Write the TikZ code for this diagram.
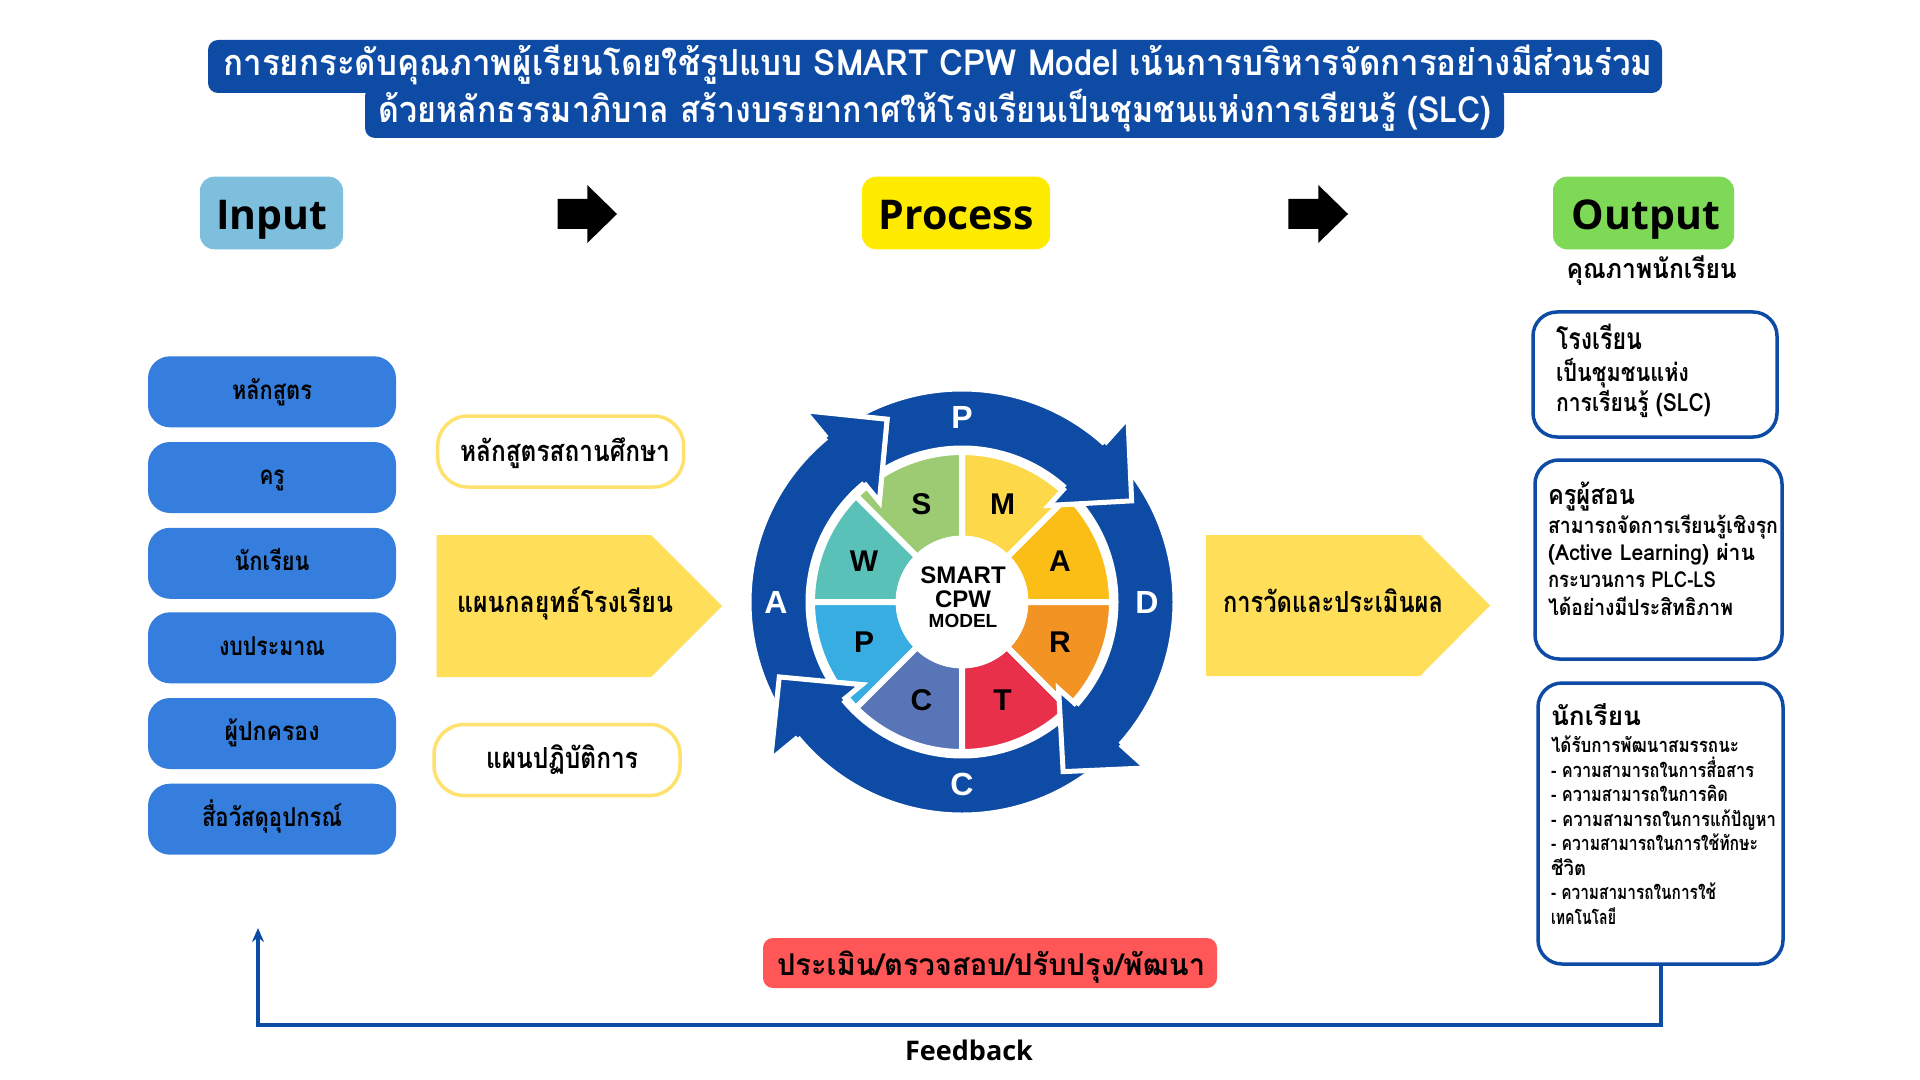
\documentclass[tikz,border=0pt]{standalone}
\usepackage{fontspec}
\usepackage{graphicx}
\setmainfont{Open Sans}
\newfontfamily\thaifont[Script=Thai]{Loma}
\newfontfamily\libsans{Liberation Sans}
\usetikzlibrary{arrows.meta}
\newdimen\pxu \pxu=0.5pt
% text at a given size, squeezed or stretched to a given width (in px)
\newcommand\fw[3]{{\fontsize{#2}{#2}\selectfont\resizebox{#1\pxu}{\height}{#3}}}
\definecolor{navy}{HTML}{0E4BA5}
\definecolor{cin}{HTML}{7EBFDE}
\definecolor{cproc}{HTML}{FFEB00}
\definecolor{cout}{HTML}{7ED957}
\definecolor{cblue}{HTML}{357EDD}
\definecolor{cyb}{HTML}{FFE16E}
\definecolor{cyf}{HTML}{FFDE59}
\definecolor{cred}{HTML}{FF5757}
\definecolor{sA}{HTML}{FBBE17}
\definecolor{sM}{HTML}{FDD849}
\definecolor{sS}{HTML}{9CCB74}
\definecolor{sW}{HTML}{5AC1B9}
\definecolor{sP}{HTML}{38ADE2}
\definecolor{sC}{HTML}{5875B8}
\definecolor{sT}{HTML}{E8304B}
\definecolor{sR}{HTML}{F29324}
\tikzset{
  bluebox/.style={fill=cblue, rounded corners=11pt, minimum width=124pt, minimum height=35.5pt},
  ybox/.style={fill=white, draw=cyb, line width=1.75pt, rounded corners=15pt, minimum width=123pt, minimum height=35.5pt},
  obox/.style={fill=white, draw=navy, line width=1.75pt, rounded corners=12pt},
  hdr/.style={rounded corners=7pt, minimum height=36.3pt},
  hdrtext/.style={font=\bfseries\fontsize{20.5pt}{20.5pt}\selectfont, anchor=base},
  th/.style={font=\thaifont\bfseries, anchor=base},
  thl/.style={font=\thaifont\bfseries, anchor=base west},
  wlet/.style={font=\libsans\bfseries\fontsize{15pt}{15pt}\selectfont},
  rlet/.style={font=\libsans\bfseries\fontsize{16pt}{16pt}\selectfont, text=white},
  penta/.style={fill=cyf},
  blkarrow/.style={fill=black},
  fbline/.style={draw=navy, line width=2pt, -{Stealth[length=7pt,width=6pt]}}
}
\begin{document}
\begin{tikzpicture}[x=0.5pt,y=-0.5pt,every node/.style={inner sep=0pt,outer sep=0pt}]
\fill[white] (0,0) rectangle (1920,1080);
\useasboundingbox (0,0) rectangle (1920,1080);

% ---------- title ----------
\node[fill=navy, rounded corners=5pt, minimum width=727pt, minimum height=26.5pt] (tb1) at (935,66.5) {};
\node[fill=navy, rounded corners=5pt, minimum width=569.5pt, minimum height=26pt] (tb2) at (934.5,112) {};
\node[th, text=white] (tt1) at (938,76) {\fw{1429}{18pt}{การยกระดับคุณภาพผู้เรียนโดยใช้รูปแบบ SMART CPW Model เน้นการบริหารจัดการอย่างมีส่วนร่วม}};
\node[th, text=white] (tt2) at (935,123) {\fw{1113}{18pt}{ด้วยหลักธรรมาภิบาล สร้างบรรยากาศให้โรงเรียนเป็นชุมชนแห่งการเรียนรู้ (SLC)}};

% ---------- headers ----------
\node[hdr, fill=cin, minimum width=71.5pt] (hin) at (271.5,213) {};
\node[hdrtext] (tin) at (272,230) {Input};
\node[hdr, fill=cproc, minimum width=94pt] (hproc) at (956,213) {};
\node[hdrtext] (tproc) at (956,230) {Process};
\node[hdr, fill=cout, minimum width=90.5pt] (hout) at (1643.5,213) {};
\node[hdrtext] (tout) at (1646,230) {Output};
\node[th] (qual) at (1651.7,279) {\fw{170}{13.5pt}{คุณภาพนักเรียน}};

\fill[blkarrow] (557.7,199) -- (587.3,199) -- (587.3,185) -- (617,214) -- (587.3,243) -- (587.3,229) -- (557.7,229) -- cycle;
\fill[blkarrow] (1288.3,199) -- (1318.3,199) -- (1318.3,185) -- (1348,214) -- (1318.3,243) -- (1318.3,229) -- (1288.3,229) -- cycle;

% ---------- input boxes ----------
\node[bluebox] (i1) at (272,391.8) {};
\node[bluebox] (i2) at (272,477.5) {};
\node[bluebox] (i3) at (272,563.3) {};
\node[bluebox] (i4) at (272,647.8) {};
\node[bluebox] (i5) at (272,733.5) {};
\node[bluebox] (i6) at (272,819.2) {};
\node[th] (ti1) at (272,399) {\fw{80}{13pt}{หลักสูตร}};
\node[th] (ti2) at (272,484.7) {\fw{25}{13pt}{ครู}};
\node[th] (ti3) at (272,570.5) {\fw{75}{13pt}{นักเรียน}};
\node[th] (ti4) at (272,655) {\fw{106}{13pt}{งบประมาณ}};
\node[th] (ti5) at (272,740.7) {\fw{95}{13pt}{ผู้ปกครอง}};
\node[th] (ti6) at (272,826.4) {\fw{140}{13pt}{สื่อวัสดุอุปกรณ์}};

% ---------- plans ----------
\node[ybox] (p1) at (560.7,451.5) {};
\node[th] (tp1) at (565,461) {\fw{210}{14.5pt}{หลักสูตรสถานศึกษา}};
\fill[penta] (436.5,535) -- (651,535) -- (722,606) -- (651,677) -- (436.5,677) -- cycle;
\node[th] (tp2) at (565,612) {\fw{216}{14.5pt}{แผนกลยุทธ์โรงเรียน}};
\node[ybox] (p3) at (557,760) {};
\node[th] (tp3) at (562,768) {\fw{152}{14.5pt}{แผนปฏิบัติการ}};

% ---------- wheel ----------
\begin{scope}[shift={(962,602)}, y=0.5pt]
  \foreach \a/\c in {0/sA,45/sM,90/sS,135/sW,180/sP,225/sC,270/sT,315/sR}
    \filldraw[fill=\c, draw=white, line width=3pt, line join=round] (0,0) -- (\a:150) arc[start angle=\a, end angle=\a+45, radius=150] -- cycle;
  \filldraw[fill=white, draw=white] (0,0) circle[radius=66];
  \foreach \a/\l [count=\i] in {22.5/A,67.5/M,112.5/S,157.5/W,202.5/P,247.5/C,292.5/T,337.5/R}
    \node[wlet] (wl\i) at (\a:106) {\l};
  \node[font=\libsans\bfseries\fontsize{12pt}{12pt}\selectfont] (ct1) at (1,26.5) {SMART};
  \node[font=\libsans\bfseries\fontsize{12pt}{12pt}\selectfont] (ct2) at (1,2.5) {CPW};
  \node[font=\libsans\bfseries\fontsize{9.5pt}{9.5pt}\selectfont] (ct3) at (1,-19) {MODEL};
  % ring arrows
  \foreach \s/\b in {123.5/48, 42/-42, -48/-140.5, -146.5/-230.5}
    \filldraw[fill=navy, draw=white, line width=2.5pt] (\s:213) arc[start angle=\s, end angle=\b, radius=213] -- (\b:248) -- ({\b-17.2}:197.5) -- (\b:130) -- (\b:154) arc[start angle=\b, end angle=\s, radius=154] -- cycle;
  \foreach \b in {48, -42, -140.5, -230.5}
    \filldraw[fill=navy, draw=white, line width=2.5pt] (\b:213) -- (\b:248) -- ({\b-17.2}:197.5) -- (\b:130) -- (\b:154);
  \node[rlet] (rP) at (90:185) {P};
  \node[rlet] (rD) at (0:185) {D};
  \node[rlet] (rC) at (-90:182) {C};
  \node[rlet] (rA) at (180:186) {A};
\end{scope}

% ---------- evaluation ----------
\fill[penta] (1206,535) -- (1420,535) -- (1490,605.5) -- (1420,676) -- (1206,676) -- cycle;
\node[th] (tev) at (1333,612) {\fw{220}{14.5pt}{การวัดและประเมินผล}};

% ---------- output boxes ----------
\node[obox, minimum width=122pt, minimum height=62.5pt] (o1) at (1655,374.5) {};
\node[thl] (o1a) at (1556,350) {\fw{86}{15pt}{โรงเรียน}};
\node[thl] (o1b) at (1556,381) {\fw{133}{12.5pt}{เป็นชุมชนแห่ง}};
\node[thl] (o1c) at (1556,411) {\fw{155}{12.5pt}{การเรียนรู้ (SLC)}};

\node[obox, minimum width=123.5pt, minimum height=99.5pt] (o2) at (1658.5,559.5) {};
\node[thl] (o2a) at (1548,504) {\fw{87}{13.5pt}{ครูผู้สอน}};
\node[thl] (o2b) at (1548,533) {\fw{230}{11pt}{สามารถจัดการเรียนรู้เชิงรุก}};
\node[thl] (o2c) at (1548,560) {\fw{207}{11pt}{(Active Learning) ผ่าน}};
\node[thl] (o2d) at (1548,587) {\fw{168}{11pt}{กระบวนการ PLC-LS}};
\node[thl] (o2e) at (1548,615) {\fw{185}{11pt}{ได้อย่างมีประสิทธิภาพ}};

\node[obox, minimum width=122.5pt, minimum height=140.5pt] (o3) at (1660.5,823.5) {};
\node[thl] (o3a) at (1551,725) {\fw{90}{13pt}{นักเรียน}};
\node[thl] (o3b) at (1551,752) {\fw{188}{10pt}{ได้รับการพัฒนาสมรรถนะ}};
\node[thl] (o3c) at (1551,777) {\fw{203}{10pt}{- ความสามารถในการสื่อสาร}};
\node[thl] (o3d) at (1551,801) {\fw{177}{10pt}{- ความสามารถในการคิด}};
\node[thl] (o3e) at (1551,826) {\fw{225}{10pt}{- ความสามารถในการแก้ปัญหา}};
\node[thl] (o3f) at (1551,850) {\fw{207}{10pt}{- ความสามารถในการใช้ทักษะ}};
\node[thl] (o3g) at (1551,875) {\fw{35}{10pt}{ชีวิต}};
\node[thl] (o3h) at (1551,899) {\fw{165}{10pt}{- ความสามารถในการใช้}};
\node[thl] (o3i) at (1551,924) {\fw{65}{10pt}{เทคโนโลยี}};

% ---------- feedback ----------
\node[fill=cred, rounded corners=5pt, minimum width=227pt, minimum height=25pt] (rev) at (990,963) {};
\node[th] (trev) at (991,975) {\fw{428}{15pt}{ประเมิน/ตรวจสอบ/ปรับปรุง/พัฒนา}};
\coordinate (fbtip) at (258,928);
\coordinate (fbl) at (258,1025);
\draw[fbline] (o3.south) -- (o3.south |- fbl) -- (fbl) -- (fbtip);
\node[font=\bfseries\fontsize{13.5pt}{13.5pt}\selectfont, anchor=base] (fb) at (969,1060) {Feedback};
\end{tikzpicture}
\end{document}
